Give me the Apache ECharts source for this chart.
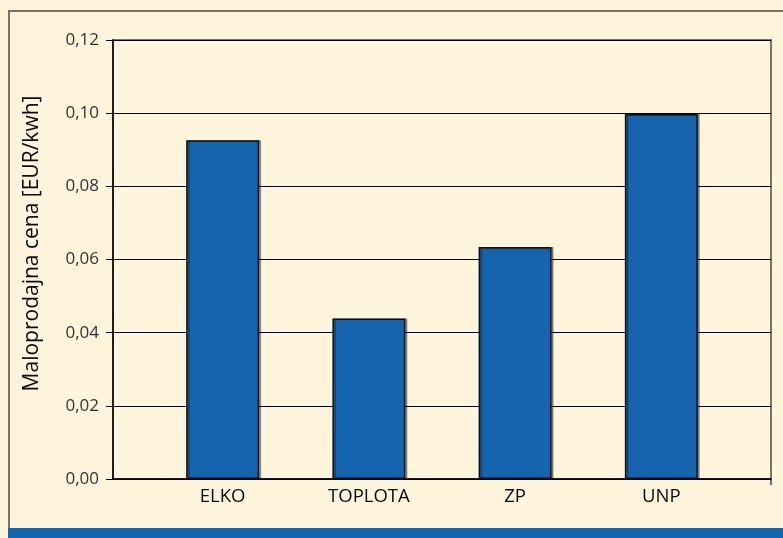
<!DOCTYPE html>
<html>
<head>
<meta charset="utf-8">
<script src="https://cdn.jsdelivr.net/npm/echarts@6/dist/echarts.min.js"></script>
<style>
    html, body { margin: 0; padding: 0; background: #fef5dc; }
    #chart { width: 783px; height: 538px; }
</style>
</head>
<body>
<div id="chart"></div>
<script>
    // podatki
    var categories = ['ELKO', 'TOPLOTA', 'ZP', 'UNP'];
    var prices = [0.0926, 0.0439, 0.0634, 0.0998];
    var yTicks = [0, 0.02, 0.04, 0.06, 0.08, 0.10, 0.12];

    // kategorije so razporejene na osi 0..4.5 (centri pri 0.75, 1.75 ...)
    var barData = prices.map(function (v, i) { return [0.75 + i, v]; });

    var myChart = echarts.init(document.getElementById('chart'));
    var option = {
        backgroundColor: '#fef5dc',
        animation: false,
        textStyle: { fontFamily: 'Open Sans' },
        graphic: [
            { type: 'line', shape: { x1: 8, y1: 11, x2: 783, y2: 11 }, style: { stroke: '#7a7264', lineWidth: 2 } },
            { type: 'line', shape: { x1: 9, y1: 11, x2: 9, y2: 528 }, style: { stroke: '#7a7264', lineWidth: 2 } },
            { type: 'line', shape: { x1: 771, y1: 479, x2: 771, y2: 485 }, style: { stroke: '#7a7264', lineWidth: 2 } },
            { type: 'rect', shape: { x: 8, y: 528, width: 775, height: 10 }, style: { fill: '#1565b0' } }
        ],
        grid: {
            left: 113, right: 12, top: 40, bottom: 59,
            show: true, borderColor: '#7a7264', borderWidth: 2
        },
        xAxis: {
            type: 'value',
            min: 0, max: 4.5, interval: 0.25,
            axisLine: { lineStyle: { color: '#000', width: 1.5 } },
            axisTick: { show: false },
            splitLine: { show: false },
            axisLabel: {
                color: '#0a0a0a', fontSize: 18.5, margin: 8,
                formatter: function (v) {
                    var i = v - 0.75;
                    if (Math.abs(i - Math.round(i)) < 1e-6 && categories[Math.round(i)]) {
                        return categories[Math.round(i)];
                    }
                    return '';
                }
            }
        },
        yAxis: {
            type: 'value',
            min: yTicks[0], max: yTicks[yTicks.length - 1], interval: 0.02,
            name: 'Maloprodajna cena [EUR/kwh]',
            nameLocation: 'middle',
            nameGap: 70,
            nameTextStyle: { color: '#0a0a0a', fontSize: 21, padding: [0, 0, 0, 32] },
            axisLine: { show: true, lineStyle: { color: '#000', width: 1.5 } },
            axisTick: { show: true, length: 7, lineStyle: { color: '#000' } },
            splitLine: { lineStyle: { color: '#000', width: 1 } },
            axisLabel: {
                color: '#333', fontSize: 17, margin: 14,
                formatter: function (v) { return v.toFixed(2).replace('.', ','); }
            }
        },
        series: [{
            type: 'bar',
            data: barData,
            barWidth: 73,
            itemStyle: {
                color: '#1764ae',
                borderColor: '#111',
                borderWidth: 1.5,
                shadowColor: 'rgba(0,0,0,0.35)',
                shadowOffsetX: 2,
                shadowOffsetY: 0
            }
        }]
    };
    myChart.setOption(option);
</script>
</body>
</html>
